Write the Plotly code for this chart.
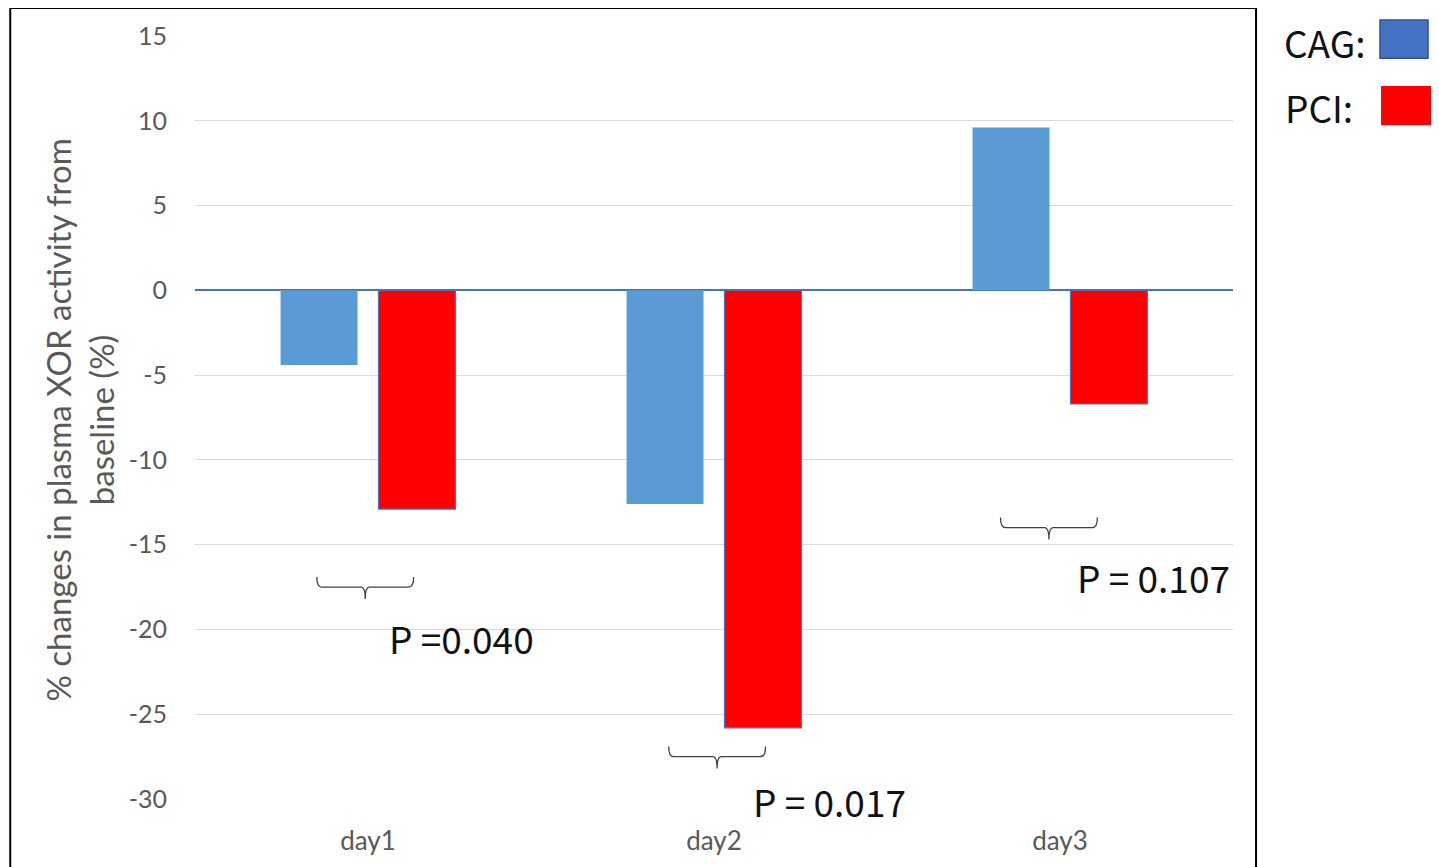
import plotly.graph_objects as go

categories = ["day1", "day2", "day3"]
cag_values = [-4.4, -12.6, 9.6]
pci_values = [-12.9, -25.8, -6.7]
y_ticks = [15, 10, 5, 0, -5, -10, -15, -20, -25, -30]
y_tick_text = ["15", "10", "5", "0", "-5", "-10", "-15", "-20", "-25", "-30"]
p_labels = ["P =0.040", "P = 0.017", "P = 0.107"]
brace_tops = [-16.9, -26.9, -13.4]
brace_dx = [-0.008, 0.009, -0.032]
p_label_y = [-20.5, -30.1, -16.9]
p_label_dx = [0.27, 0.335, 0.27]

xs = list(range(len(categories)))

fig = go.Figure()
fig.add_trace(go.Bar(x=xs, y=cag_values, name="CAG",
                     marker=dict(color="#5B9BD5", line=dict(width=0))))
fig.add_trace(go.Bar(x=xs, y=pci_values, name="PCI",
                     marker=dict(color="#FF0000", line=dict(color="#4472C4", width=1.2))))

# braces and p-value labels
for i, (top, bdx, ly, dx, txt) in enumerate(zip(brace_tops, brace_dx, p_label_y, p_label_dx, p_labels)):
    c = i + bdx
    hw = 0.14
    mid = top - 0.6
    tip = top - 1.3
    path = (f"M {c-hw},{top} Q {c-hw},{mid} {c-hw+0.015},{mid} "
            f"L {c-0.012},{mid} Q {c},{mid} {c},{tip} "
            f"Q {c},{mid} {c+0.012},{mid} L {c+hw-0.015},{mid} "
            f"Q {c+hw},{mid} {c+hw},{top}")
    fig.add_shape(type="path", path=path, xref="x", yref="y",
                  line=dict(color="#404040", width=1.3))
    y_in = max(ly, -29.9)
    shift = (ly - y_in) * 763 / 45
    fig.add_annotation(x=i + dx, y=y_in, yshift=shift, xref="x", yref="y", text=txt,
                       showarrow=False, xanchor="center", yanchor="middle",
                       font=dict(family="Noto Sans CJK JP", size=37, color="#111111"))

# outer frame
fig.add_shape(type="rect", xref="paper", yref="paper",
              x0=-0.178, x1=1.0222, y0=-0.12, y1=1.0367,
              line=dict(color="#000000", width=2), layer="below")

# custom legend
fig.add_annotation(x=1.047, y=0.992, xref="paper", yref="paper", text="CAG:",
                   showarrow=False, xanchor="left", yanchor="middle",
                   font=dict(family="Noto Sans CJK JP", size=37, color="#111111"))
fig.add_shape(type="rect", xref="paper", yref="paper",
              x0=1.1416, x1=1.1879, y0=0.971, y1=1.021,
              fillcolor="#4472C4", line=dict(color="#2F5597", width=1.5))
fig.add_annotation(x=1.048, y=0.907, xref="paper", yref="paper", text="PCI:",
                   showarrow=False, xanchor="left", yanchor="middle",
                   font=dict(family="Noto Sans CJK JP", size=37, color="#111111"))
fig.add_shape(type="rect", xref="paper", yref="paper",
              x0=1.1426, x1=1.21, y0=0.883, y1=0.9345,
              fillcolor="#FF0000", line=dict(width=0))

# y-axis title
fig.add_annotation(x=-0.111, y=0.497, xref="paper", yref="paper",
                   text="% changes in plasma XOR activity from<br>baseline (%)",
                   textangle=-90, showarrow=False, xanchor="center", yanchor="middle",
                   font=dict(family="Lato", size=33, color="#595959"))

fig.update_layout(
    width=1439, height=867,
    margin=dict(l=187, r=214, t=28, b=76),
    paper_bgcolor="white", plot_bgcolor="white",
    barmode="group", bargap=0.434, bargroupgap=0.214,
    showlegend=False,
    xaxis=dict(range=[-0.5, 2.5], tickvals=xs, ticktext=categories,
               showgrid=False, zeroline=False, showline=False,
               ticklabelstandoff=24,
               tickfont=dict(family="Lato", size=26, color="#595959")),
    yaxis=dict(range=[-30, 15], tickvals=y_ticks, ticktext=y_tick_text, showgrid=True,
               gridcolor="#D9D9D9", gridwidth=1.2,
               zeroline=True, zerolinecolor="#4472C4", zerolinewidth=1.5,
               showline=False, ticklabelstandoff=27,
               tickfont=dict(family="Lato", size=25, color="#595959")),
)

fig.write_html("out.html")
